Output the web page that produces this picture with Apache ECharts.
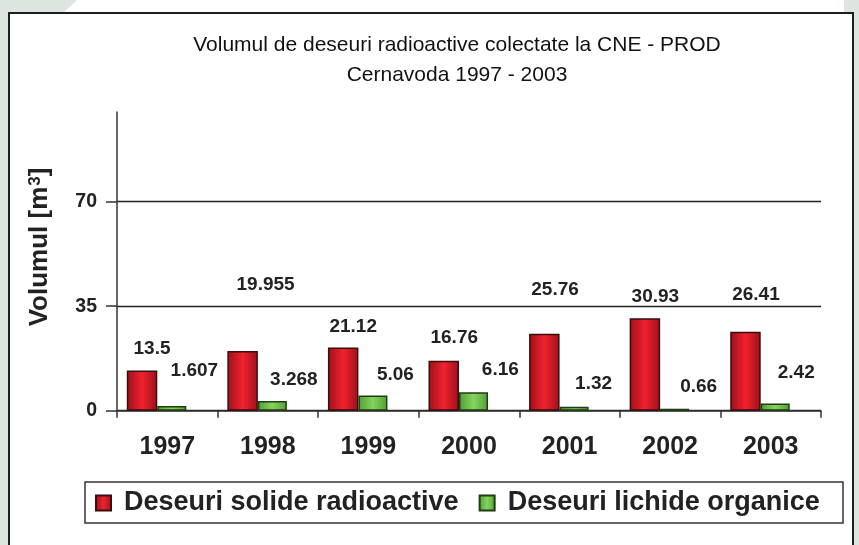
<!DOCTYPE html>
<html><head><meta charset="utf-8">
<script src="https://cdn.jsdelivr.net/npm/echarts@6/dist/echarts.min.js"></script>
<style>
html,body{margin:0;padding:0;width:859px;height:545px;overflow:hidden;background:#dde5df;}
#top{position:absolute;left:62px;top:0;width:782px;height:14px;background:#fff;clip-path:polygon(15px 0,100% 0,100% 100%,0 100%);}
#panel{position:absolute;left:8px;top:12px;width:842px;height:560px;border:2.5px solid #1e1e1e;background:#fff;}
#chart{position:absolute;left:0;top:0;width:859px;height:545px;}
</style></head><body>
<div id="top"></div><div id="panel"></div><div id="chart"></div>
<script>
const years = ['1997', '1998', '1999', '2000', '2001', '2002', '2003'];
const solide = [13.5, 19.955, 21.12, 16.76, 25.76, 30.93, 26.41];
const lichide = [1.607, 3.268, 5.06, 6.16, 1.32, 0.66, 2.42];
const yTicks = [0, 35, 70];
const seriesNames = ['Deseuri solide radioactive', 'Deseuri lichide organice'];
const titleText = 'Volumul de deseuri radioactive colectate la CNE - PROD\nCernavoda 1997 - 2003';

// label placement (styling only, [dx, dy] in px)
const solideLabelOffset = [[10,-12.5],[23,-56.5],[10,-11.5],[10.5,-13.2],[10.7,-34.5],[10.5,-12.1],[10.5,-27.5]];
const lichideLabelOffset = [[22.6,-25.5],[21.5,-11.5],[22.5,-11.5],[26.8,-13.5],[19.5,-13],[24,-12],[21,-21.5]];

const FF = '"Liberation Sans", Arial, sans-serif';
const chart = echarts.init(document.getElementById('chart'), null, {renderer: 'canvas'});

const redGrad = new echarts.graphic.LinearGradient(0, 0, 1, 0, [
  {offset: 0, color: '#9c111b'}, {offset: 0.5, color: '#f0222e'}, {offset: 1, color: '#9c111b'}]);
const greenGrad = new echarts.graphic.LinearGradient(0, 0, 1, 0, [
  {offset: 0, color: '#4f9f36'}, {offset: 0.5, color: '#86d45c'}, {offset: 1, color: '#4f9f36'}]);

const labelBase = {show: true, position: 'top', distance: 0, fontSize: 19, fontWeight: 'bold', color: '#222', fontFamily: FF};

chart.setOption({
  animation: false,
  title: {
    text: titleText, left: 457, top: 30, textAlign: 'center', padding: 0,
    textStyle: {fontSize: 21, fontWeight: 'normal', color: '#111', fontFamily: FF, lineHeight: 30}
  },
  grid: {left: 117, right: 38, top: 112, bottom: 134.3, containLabel: false},
  xAxis: {
    type: 'category', data: years, boundaryGap: true,
    axisLine: {show: true, lineStyle: {color: '#333', width: 1.5}},
    axisTick: {show: true, length: 7, lineStyle: {color: '#333', width: 1.5}},
    axisLabel: {fontSize: 25, fontWeight: 'bold', color: '#222', margin: 24, fontFamily: FF},
    splitLine: {show: false}
  },
  yAxis: {
    type: 'value', min: 0, max: 100, interval: 35,
    axisLine: {show: true, lineStyle: {color: '#333', width: 1.5}},
    axisTick: {show: true, length: 11, customValues: yTicks, lineStyle: {color: '#333', width: 1.5}},
    axisLabel: {customValues: yTicks, fontSize: 19.5, fontWeight: 'bold', color: '#222', margin: 20, fontFamily: FF},
    splitLine: {show: true, lineStyle: {color: '#222', width: 1.3}}
  },
  legend: {
    data: seriesNames, left: 95, top: 489.5, padding: 0, itemGap: 20,
    itemWidth: 15, itemHeight: 15, icon: 'rect',
    formatter: n => '{t|' + n + '}',
    textStyle: {rich: {t: {fontSize: 27, fontWeight: 'bold', color: '#222', fontFamily: FF, padding: [0, 0, 0, 8]}}}
  },
  graphic: [
    {type: 'rect', z: -10, shape: {x: 85, y: 482, width: 758, height: 41},
     style: {fill: '#fff', stroke: '#333', lineWidth: 1.5}},
    {type: 'text', x: 40, y: 247, rotation: Math.PI / 2,
     style: {text: '{a|Volumul [m}{s|3}{a|]}', align: 'center', verticalAlign: 'middle',
       rich: {a: {fontSize: 26, fontWeight: 'bold', fill: '#222', fontFamily: FF},
              s: {fontSize: 17, fontWeight: 'bold', fill: '#222', fontFamily: FF, verticalAlign: 'top', padding: [0, 0, 0, 1]}}}}
  ],
  series: [
    {name: seriesNames[0], type: 'bar', barWidth: 30.5, barGap: '0%',
     data: solide.map((v, i) => ({value: v, label: {offset: solideLabelOffset[i]}})),
     itemStyle: {color: redGrad, borderColor: '#3b0d0d', borderWidth: 1.5},
     label: labelBase},
    {name: seriesNames[1], type: 'bar', barWidth: 29, barGap: '0%',
     data: lichide.map((v, i) => ({value: v, label: {offset: lichideLabelOffset[i]}})),
     itemStyle: {color: greenGrad, borderColor: '#1f3d12', borderWidth: 1.5},
     label: labelBase},
    {name: 'spacer', type: 'bar', barWidth: 21.5, barGap: '0%', data: [], silent: true}
  ]
});
</script>
</body></html>
